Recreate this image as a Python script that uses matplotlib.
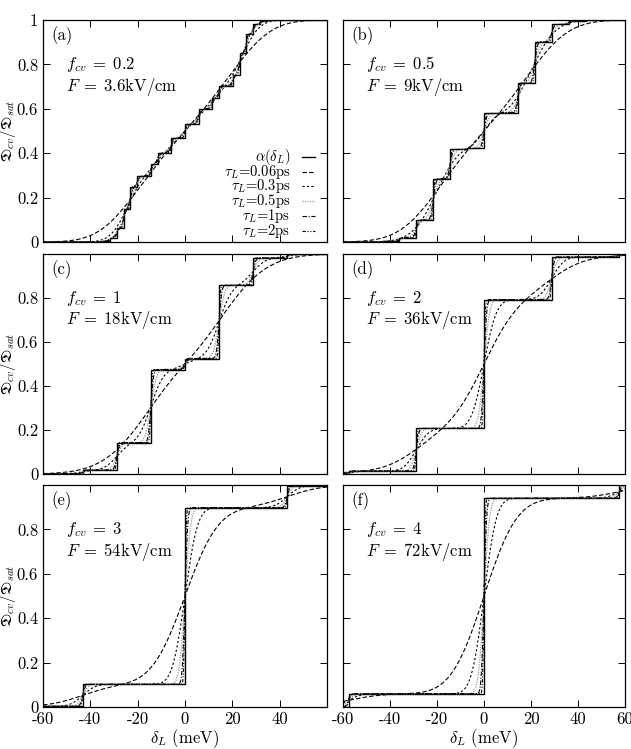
import numpy as np
import matplotlib
matplotlib.use('Agg')
import matplotlib.pyplot as plt
from math import erf

plt.rcParams.update({
    'font.family': 'serif',
    'font.serif': ['cmr10'],
    'mathtext.fontset': 'cm',
    'axes.unicode_minus': False,
    'axes.formatter.use_mathtext': True,
    'font.size': 11,
})

# ---------------- data ----------------
panel_labels = ['(a)', '(b)', '(c)', '(d)', '(e)', '(f)']
f_cv_values = ['0.2', '0.5', '1', '2', '3', '4']
field_values = ['3.6', '9', '18', '36', '54', '72']
step_spacing = [2.88, 7.2, 14.4, 28.8, 43.2, 57.6]  # meV, distance between steps

# step heights for |n| = 0, 1, 2, ... (symmetric steps at +/- n*spacing)
weights_a = [0.0605, 0.0019, 0.0648, 0.0034, 0.0482, 0.0548, 0.0002, 0.0470,
             0.1011, 0.0852, 0.0431, 0.0152, 0.0040, 0.0008, 0.0001]
weights_b = [0.1577, 0.0044, 0.1326, 0.1851, 0.0790, 0.0175, 0.0024, 0.0002]
weights_c = [0.0501, 0.3326, 0.1245, 0.0166, 0.0012]
weights_d = [0.5855, 0.1936, 0.0132, 0.0004]
weights_e = [0.7957, 0.0993, 0.0029]
weights_f = [0.8808, 0.0587, 0.0009]
all_weights = [weights_a, weights_b, weights_c, weights_d, weights_e, weights_f]

tau_labels = ['0.06', '0.3', '0.5', '1', '2']
tau_widths = [11.0, 4.2, 1.9, 0.9, 0.45]  # meV spectral broadening of each pulse

x_ticks = [-60, -40, -20, 0, 20, 40, 60]
y_ticks = [0, 0.2, 0.4, 0.6, 0.8, 1]

# ---------------- styles ----------------
step_style = dict(color='black', lw=1.0)
tau_styles = [
    dict(color='black', lw=0.8, dashes=(4, 2)),
    dict(color='black', lw=0.8, dashes=(2, 2)),
    dict(color='#9a9a9a', lw=0.9, dashes=(1, 1)),
    dict(color='black', lw=0.8, dashes=(4, 1.5, 1, 1.5)),
    dict(color='black', lw=0.8, dashes=(3, 1.5, 1, 1.5, 1, 1.5)),
]

verf = np.vectorize(erf)

W, H = 631, 749
fig = plt.figure(figsize=(W / 100, H / 100), dpi=100)
cols = [(43, 284), (343, 282)]
rows = [(20, 222), (254, 220), (485, 222)]

xg = np.linspace(-60, 60, 3001)

for i in range(6):
    r, c = divmod(i, 2)
    x0, w = cols[c]
    y0, h = rows[r]
    ax = fig.add_axes([x0 / W, 1 - (y0 + h) / H, w / W, h / H])
    wts = all_weights[i]
    d = step_spacing[i]
    ns = []
    ws = []
    for n, wv in enumerate(wts):
        if n == 0:
            ns.append(0); ws.append(wv)
        else:
            ns += [-n, n]; ws += [wv, wv]
    ns = np.array(ns); ws = np.array(ws)
    pos = ns * d
    order = np.argsort(pos)
    pos = pos[order]; ws = ws[order]

    # broadened curves (drawn first, step function on top)
    for k, sig in enumerate(tau_widths):
        y = np.zeros_like(xg)
        for p, wv in zip(pos, ws):
            y += wv * 0.5 * (1 + verf((xg - p) / (sig * np.sqrt(2))))
        ax.plot(xg, y, **tau_styles[k])

    # step function alpha(delta_L)
    inside = (pos > -60) & (pos < 60)
    edges = np.concatenate([[-60], pos[inside], [60]])
    base = ws[pos <= -60].sum()
    levels = base + np.concatenate([[0], np.cumsum(ws[inside])])
    ax.stairs(levels, edges, baseline=None, **step_style)

    # gnuplot-style key (panel a only): right-aligned text, sample on the right
    if i == 0:
        key_labels = [r'$\alpha(\delta_L)$'] + [r'$\tau_L$=' + t + 'ps' for t in tau_labels]
        key_styles = [step_style] + tau_styles
        for j, (lab, st) in enumerate(zip(key_labels, key_styles)):
            yk = 1 - (157 + 14.7 * j - 20) / 222
            ax.text(0.872, yk, lab, transform=ax.transAxes, fontsize=10.5,
                    ha='right', va='center')
            ax.plot([0.912, 0.958], [yk, yk], transform=ax.transAxes, **st)

    ax.set_xlim(-60, 60)
    ax.set_ylim(0, 1)
    ax.set_xticks(x_ticks)
    ax.set_yticks(y_ticks)
    ax.tick_params(direction='in', top=True, right=True, length=5, width=0.7,
                   labelsize=12, pad=3.5)
    for s in ax.spines.values():
        s.set_linewidth(0.9)

    if c == 0:
        if r == 0:
            ax.set_yticklabels(['0', '0.2', '0.4', '0.6', '0.8', '1'])
        else:
            ax.set_yticklabels(['0', '0.2', '0.4', '0.6', '0.8', ''])
        ax.set_ylabel(r'$\mathfrak{D}_{cv}/\mathfrak{D}_{sat}$', fontsize=11)
        ax.yaxis.set_label_coords(-0.088, 0.5)
    else:
        ax.set_yticklabels([])
    if r == 2:
        if c == 0:
            ax.set_xticklabels(['-60', '-40', '-20', '0', '20', '40', ''])
        else:
            ax.set_xticklabels(['-60', '-40', '-20', '0', '20', '40', '60'])
        ax.set_xlabel(r'$\delta_L$ (meV)', fontsize=12)
        ax.xaxis.set_label_coords(0.5, -0.092)
    else:
        ax.set_xticklabels([])

    ax.text(0.03, 0.93, panel_labels[i], transform=ax.transAxes, fontsize=12,
            va='center', ha='left')
    ax.text(0.08, 0.80, r'$f_{cv}\;=\;%s$' % f_cv_values[i], transform=ax.transAxes,
            fontsize=12, va='center', ha='left')
    ax.text(0.08, 0.70, r'$F\;=\;%s\mathrm{kV/cm}$' % field_values[i],
            transform=ax.transAxes, fontsize=12, va='center', ha='left')

fig.savefig('out.png', dpi=100)
